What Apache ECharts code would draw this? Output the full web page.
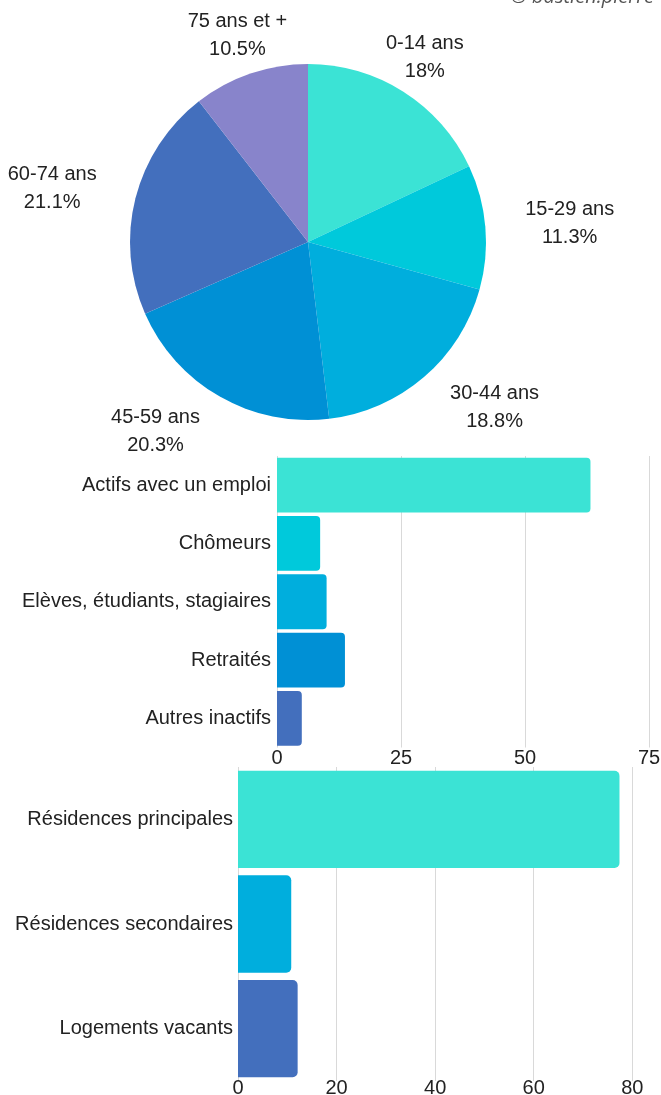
<!DOCTYPE html>
<html>
<head>
<meta charset="utf-8">
<script src="https://cdn.jsdelivr.net/npm/echarts@6/dist/echarts.min.js"></script>
<style>
  html, body { margin: 0; padding: 0; background: #fff; }
  #chart { width: 661px; height: 1095px; }
</style>
</head>
<body>
<div id="chart"></div>
<script>
// Population by age group (%)
const ageGroups = ['0-14 ans', '15-29 ans', '30-44 ans', '45-59 ans', '60-74 ans', '75 ans et +'];
const agePct = [18, 11.3, 18.8, 20.3, 21.1, 10.5];

// Population 15-64 ans by activity type (%)
const activityTypes = ['Actifs avec un emploi', 'Chômeurs', 'Elèves, étudiants, stagiaires', 'Retraités', 'Autres inactifs'];
const activityPct = [63.2, 8.7, 10.0, 13.7, 5.0];

// Housing by category (%)
const housingTypes = ['Résidences principales', 'Résidences secondaires', 'Logements vacants'];
const housingPct = [77.4, 10.8, 12.1];

const ageColors = ['#3be3d5', '#00c9db', '#00aedd', '#0090d5', '#436fbd', '#8884cb'];
const activityColors = ['#3be3d5', '#00c9db', '#00aedd', '#0090d5', '#436fbd'];
const housingColors = ['#3be3d5', '#00aedd', '#436fbd'];

const FONT = '"Liberation Sans", Arial, sans-serif';
const TEXT = '#222';
const FS = 20;
const PIE_CENTER = [308, 242];
const PIE_RADIUS = 178;
const LABEL_RADIUS = 218;

// Mid-angle (clockwise from 12 o'clock) of every slice
const total = agePct.reduce((a, b) => a + b, 0);
const midAngles = [];
let acc = 0;
agePct.forEach(v => {
  midAngles.push((acc + v / 2) / total * 2 * Math.PI);
  acc += v;
});

const chart = echarts.init(document.getElementById('chart'), null, { renderer: 'canvas' });

chart.setOption({
  animation: false,
  textStyle: { fontFamily: FONT },
  graphic: [{
    type: 'text',
    right: 7,
    top: -13,
    style: {
      text: '© bastien.pierre',
      font: 'italic 20px "Open Sans", sans-serif',
      fill: '#555'
    }
  }],
  grid: [
    { left: 277, right: 12, top: 456, height: 291.5, containLabel: false, outerBoundsMode: 'none' },
    { left: 238, right: 28.7, top: 767, height: 314, containLabel: false, outerBoundsMode: 'none' }
  ],
  xAxis: [
    {
      gridIndex: 0, type: 'value', min: 0, max: 75, interval: 25,
      axisLine: { show: false }, axisTick: { show: false },
      axisLabel: { color: TEXT, fontSize: FS, fontFamily: FONT, margin: 1 },
      splitLine: { lineStyle: { color: '#d9d9d9', width: 1 } }
    },
    {
      gridIndex: 1, type: 'value', min: 0, max: 80, interval: 20,
      axisLine: { show: false }, axisTick: { show: false },
      axisLabel: { color: TEXT, fontSize: FS, fontFamily: FONT, margin: -3 },
      splitLine: { lineStyle: { color: '#d9d9d9', width: 1 } }
    }
  ],
  yAxis: [
    {
      gridIndex: 0, type: 'category', data: activityTypes, inverse: true,
      axisLine: { show: false }, axisTick: { show: false },
      axisLabel: { color: TEXT, fontSize: FS, fontFamily: FONT, margin: 6 }
    },
    {
      gridIndex: 1, type: 'category', data: housingTypes, inverse: true,
      axisLine: { show: false }, axisTick: { show: false },
      axisLabel: { color: TEXT, fontSize: FS, fontFamily: FONT, margin: 5 }
    }
  ],
  series: [
    {
      type: 'pie',
      center: PIE_CENTER,
      radius: PIE_RADIUS,
      startAngle: 90,
      clockwise: true,
      data: ageGroups.map((name, i) => ({
        name, value: agePct[i], itemStyle: { color: ageColors[i] }
      })),
      label: {
        show: true,
        position: 'outside',
        formatter: p => p.name + '\n' + p.value + '%',
        color: TEXT,
        fontSize: FS,
        fontFamily: FONT,
        lineHeight: 28,
        overflow: 'none'
      },
      labelLine: { show: false },
      labelLayout: params => {
        const a = midAngles[params.dataIndex];
        const s = Math.sin(a), c = Math.cos(a);
        const w = params.labelRect.width;
        let x = PIE_CENTER[0] + LABEL_RADIUS * s;
        const y = PIE_CENTER[1] - LABEL_RADIUS * c;
        // labels near the top are centred on the anchor, the others sit beside it
        if (c <= 0.5) x += (s > 0 ? 1 : -1) * w / 2;
        return { x, y, align: 'center', verticalAlign: 'middle' };
      },
      emphasis: { disabled: true }
    },
    {
      type: 'bar',
      xAxisIndex: 0, yAxisIndex: 0,
      barCategoryGap: '6%',
      data: activityPct.map((v, i) => ({
        value: v, itemStyle: { color: activityColors[i], borderRadius: [0, 4, 4, 0] }
      }))
    },
    {
      type: 'bar',
      xAxisIndex: 1, yAxisIndex: 1,
      barCategoryGap: '7%',
      data: housingPct.map((v, i) => ({
        value: v, itemStyle: { color: housingColors[i], borderRadius: [0, 5, 5, 0] }
      }))
    }
  ]
});
</script>
</body>
</html>
